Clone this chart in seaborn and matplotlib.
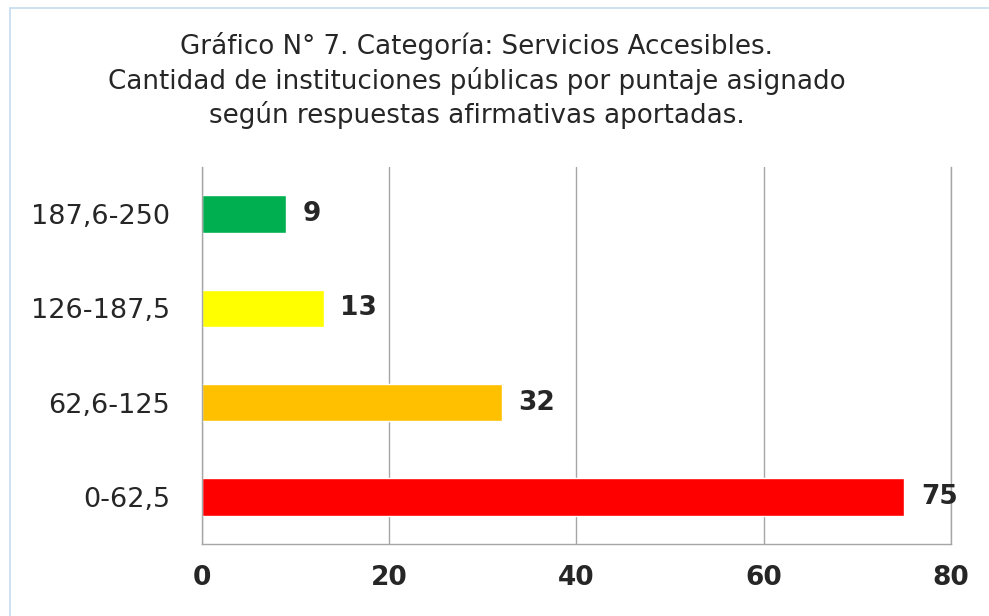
import matplotlib.pyplot as plt
import pandas as pd
import seaborn as sns
from matplotlib.patches import Rectangle

# Data
CATEGORIES = ["187,6-250", "126-187,5", "62,6-125", "0-62,5"]
COUNTS = [9, 13, 32, 75]
COLORS = ["#00b050", "#ffff00", "#ffc000", "#ff0000"]
X_TICKS = [0, 20, 40, 60, 80]
TITLE = (
    "Gráfico N° 7. Categoría: Servicios Accesibles.\n"
    "Cantidad de instituciones públicas por puntaje asignado\n"
    "según respuestas afirmativas aportadas."
)

sns.set_style("white")
plt.rcParams["font.family"] = ["DejaVu Sans"]
TEXT = "#262626"
GRID = "#a6a6a6"


def main():
    data = pd.DataFrame({"Rango": CATEGORIES, "Cantidad": COUNTS})

    fig = plt.figure(figsize=(9.89, 6.16), dpi=100)
    ax = fig.add_axes([0.2042, 0.1169, 0.7574, 0.612])

    sns.barplot(
        data=data,
        x="Cantidad",
        y="Rango",
        hue="Rango",
        order=CATEGORIES,
        hue_order=CATEGORIES,
        palette=COLORS,
        orient="h",
        width=0.4,
        saturation=1.0,
        legend=False,
        ax=ax,
    )

    for container in ax.containers:
        ax.bar_label(
            container,
            padding=12,
            fontsize=19,
            fontweight="bold",
            color=TEXT,
        )

    ax.set_xlim(0, 80)
    ax.set_xticks(X_TICKS)
    ax.set(xlabel="", ylabel="")
    ax.xaxis.grid(True, color=GRID, linewidth=1.0)
    ax.set_axisbelow(True)
    ax.tick_params(axis="x", length=0, pad=15, labelsize=19, labelcolor=TEXT)
    ax.tick_params(axis="y", length=0, pad=23, labelsize=19.5, labelcolor=TEXT)
    for label in ax.get_xticklabels():
        label.set_fontweight("bold")
    ax.spines["top"].set_visible(False)
    for side in ("left", "bottom", "right"):
        ax.spines[side].set_color(GRID)
        ax.spines[side].set_linewidth(1.0)

    fig.text(
        0.482, 0.948, TITLE,
        ha="center", va="top", fontsize=18.8, color=TEXT, linespacing=1.3,
    )

    # light frame around the chart area (cut off at right and bottom)
    fig.add_artist(
        Rectangle(
            (10 / 989, -0.1), 1.2, 1.1 - 8 / 616,
            transform=fig.transFigure, fill=False,
            edgecolor="#c5dcf0", linewidth=1.2,
        )
    )

    fig.savefig("out.png", dpi=100)


if __name__ == "__main__":
    main()
